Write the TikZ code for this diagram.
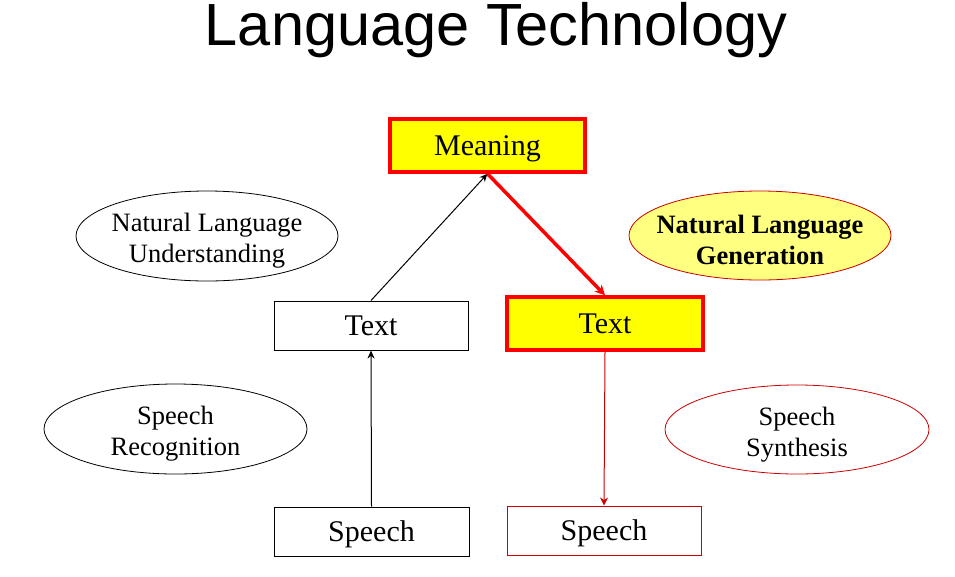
\documentclass[tikz,border=0pt]{standalone}
\usepackage{fontspec}
\setmainfont{Liberation Serif}
\newfontfamily\titlefont{Liberation Sans}
\usetikzlibrary{arrows.meta,shapes.geometric}
\definecolor{hiyellow}{RGB}{255,255,0}
\definecolor{paleyellow}{RGB}{255,255,128}
\definecolor{hired}{RGB}{255,0,0}
\definecolor{darkred}{RGB}{204,0,0}
\newcommand{\topstrut}{\rule{0pt}{28pt}}
\tikzset{
  plainbox/.style={draw=black, line width=1pt, fill=white, inner sep=0pt, text height=26pt, text depth=6pt, font=\fontsize{30}{33}\selectfont},
  hibox/.style={draw=hired, line width=3.5pt, fill=hiyellow, inner sep=0pt, text height=26pt, text depth=6pt, font=\fontsize{30}{33}\selectfont},
  redbox/.style={draw=darkred, line width=1pt, fill=white, inner sep=0pt, text height=26pt, text depth=6pt, font=\fontsize{30}{33}\selectfont},
  oval/.style={ellipse, draw=black, line width=0.8pt, inner xsep=-18pt, inner ysep=-9pt, align=center, font=\fontsize{26.5}{31}\selectfont},
  blackarrow/.style={-{Stealth[length=8pt,width=7pt]}, line width=1pt, draw=black},
  thickarrow/.style={-{Stealth[length=10pt,width=10pt]}, line width=3.5pt, draw=hired},
  thinredarrow/.style={-{Stealth[length=8pt,width=8pt]}, line width=1pt, draw=darkred}
}
\begin{document}
\begin{tikzpicture}[x=1pt,y=-1pt]
\useasboundingbox (0,0) rectangle (955,576);
\fill[white] (0,0) rectangle (955,576);
\node (title) at (496,30) {\titlefont\fontsize{59.5}{64}\selectfont Language Technology};

\node[hibox, minimum width=195pt, minimum height=53pt] (meaning) at (487.5,145.5) {Meaning};
\node[plainbox, minimum width=194pt, minimum height=49pt] (textL) at (371,325.5) {Text};
\node[hibox, minimum width=196pt, minimum height=53pt] (textR) at (605,323.5) {Text};
\node[plainbox, minimum width=195pt, minimum height=49pt] (speechL) at (371.5,531.5) {Speech};
\node[redbox, minimum width=194pt, minimum height=49pt] (speechR) at (604,530.5) {Speech};

\node[oval, minimum width=262pt, minimum height=90pt] (nlu) at (207,236) {\topstrut Natural Language\\Understanding};
\node[oval, draw=darkred, fill=paleyellow, minimum width=262pt, minimum height=89pt, font=\fontsize{26.5}{31}\selectfont\bfseries] (nlg) at (760,235.5) {\topstrut Natural Language\\Generation};
\node[oval, minimum width=263pt, minimum height=90pt] (sr) at (175.5,429) {\topstrut Speech\\Recognition};
\node[oval, draw=darkred, minimum width=264pt, minimum height=89pt] (ss) at (797,429.5) {\topstrut Speech\\Synthesis};

\draw[blackarrow] (speechL.north) -- (textL.south);
\draw[blackarrow] (textL.north) -- (meaning.south);
\draw[thickarrow] (meaning.south) -- (textR.north);
\draw[thinredarrow] (textR.south) -- (speechR.north);
\end{tikzpicture}
\end{document}
